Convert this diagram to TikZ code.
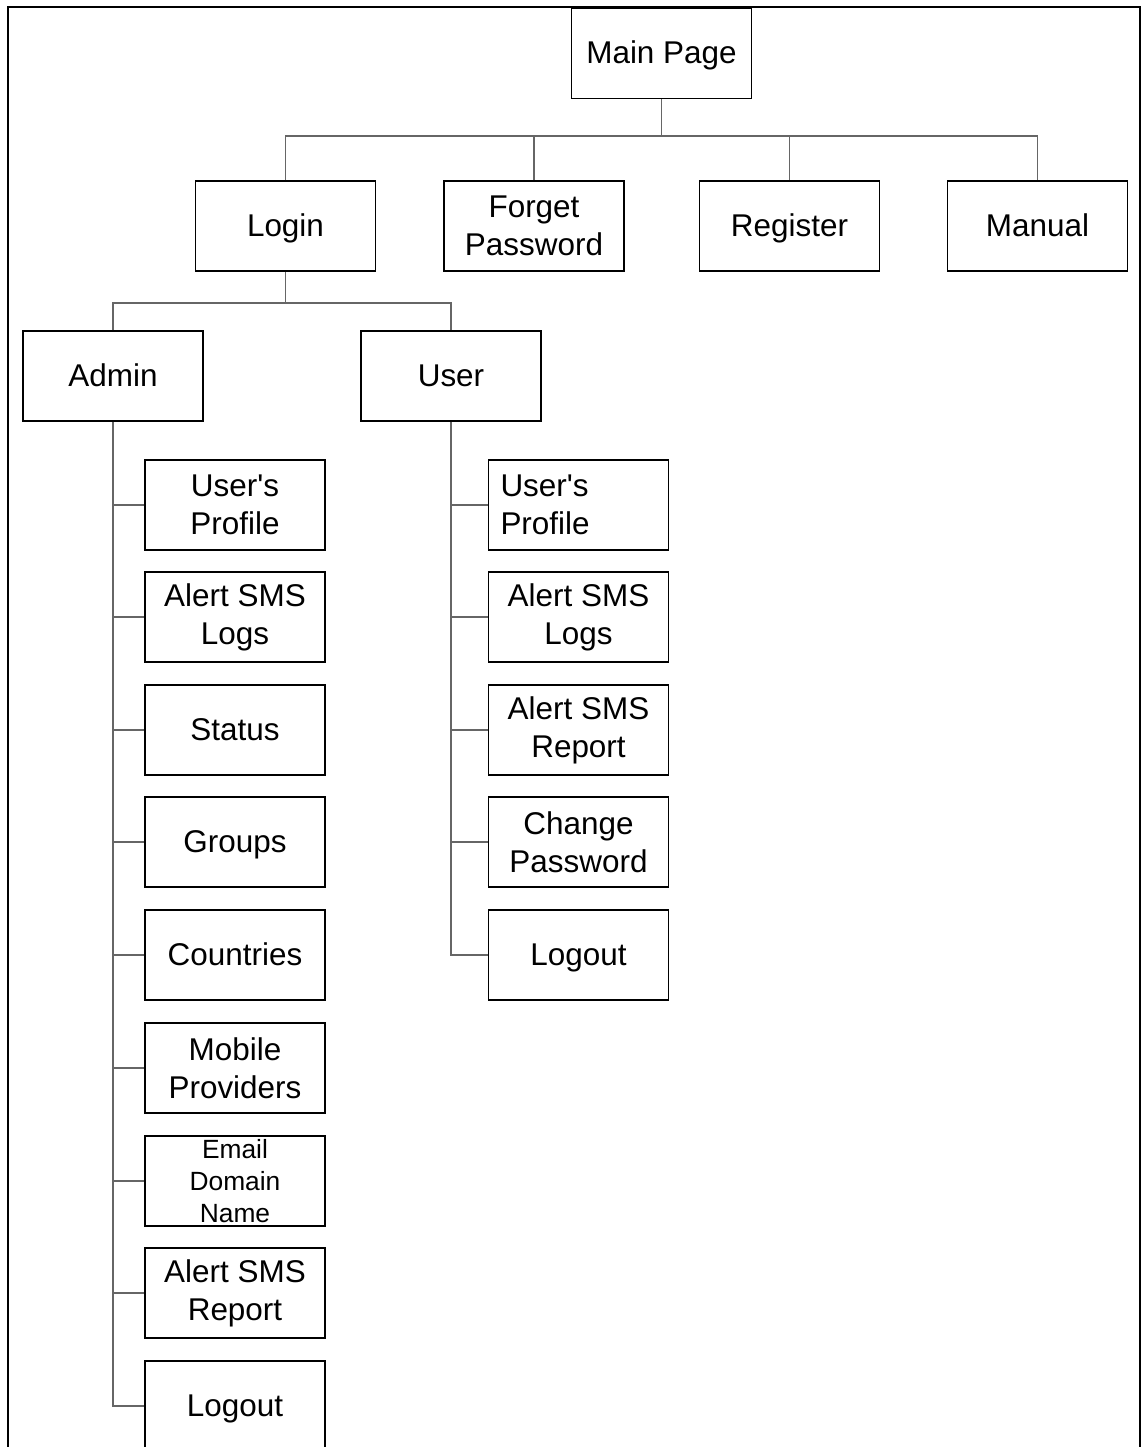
\documentclass[tikz,border=0pt]{standalone}
\usepackage{fontspec}
\setmainfont{Liberation Sans}[Ligatures=TeXOff]
\begin{document}
\begin{tikzpicture}[x=0.02cm,y=-0.02cm,
  box/.style={draw=black,line width=0.9pt,minimum width=3.6cm,minimum height=1.8cm,inner sep=0pt,align=center,font=\fontsize{17.9}{21.6}\selectfont},
  one/.style={box,text height=12.5pt,text depth=0.8pt},
  lbox/.style={box,text width=3.12cm,align=left},
  sbox/.style={box,font=\fontsize{15}{18}\selectfont},
  conn/.style={draw=black!60,line width=0.6pt},
  frame/.style={draw=black,line width=1.4pt}]
\useasboundingbox (0,0) rectangle (1145,1447);
\clip (0,0) rectangle (1145,1447);
\draw[frame] (8,1460) -- (8,7) -- (1140,7) -- (1140,1460);
% top level
\node[one] (main) at (661.5,53.5) {Main Page};
\node[one] (login) at (285.5,226) {Login};
\node[box] (forget) at (534,226) {Forget\\Password};
\node[one] (register) at (789.5,226) {Register};
\node[one] (manual) at (1037.5,226) {Manual};
\coordinate (b1) at (661.5,136);
\draw[conn] (main.south) -- (b1);
\draw[conn] (login.north) |- (b1) -| (manual.north);
\draw[conn] (forget.north) -- (forget.north |- b1);
\draw[conn] (register.north) -- (register.north |- b1);
% second level
\node[one] (admin) at (113,376) {Admin};
\node[one] (user) at (451,376) {User};
\coordinate (b2) at (285.5,303);
\draw[conn] (login.south) -- (b2);
\draw[conn] (admin.north) |- (b2) -| (user.north);
% admin children
\node[box] (a1) at (235,505) {User's\\Profile};
\node[box] (a2) at (235,617) {Alert SMS\\Logs};
\node[one] (a3) at (235,730) {Status};
\node[one] (a4) at (235,842) {Groups};
\node[one] (a5) at (235,955) {Countries};
\node[box] (a6) at (235,1068) {Mobile\\Providers};
\node[sbox] (a7) at (235,1181) {Email\\Domain\\Name};
\node[box] (a8) at (235,1293) {Alert SMS\\Report};
\node[one] (a9) at (235,1406) {Logout};
\draw[conn] (admin.south) |- (a9.west);
\foreach \n in {a1,a2,a3,a4,a5,a6,a7,a8}
  \draw[conn] (admin.south |- \n.west) -- (\n.west);
% user children
\node[lbox] (u1) at (578.5,505) {User's\\Profile};
\node[box] (u2) at (578.5,617) {Alert SMS\\Logs};
\node[box] (u3) at (578.5,730) {Alert SMS\\Report};
\node[box] (u4) at (578.5,842) {Change\\Password};
\node[one] (u5) at (578.5,955) {Logout};
\draw[conn] (user.south) |- (u5.west);
\foreach \n in {u1,u2,u3,u4}
  \draw[conn] (user.south |- \n.west) -- (\n.west);
\end{tikzpicture}
\end{document}
